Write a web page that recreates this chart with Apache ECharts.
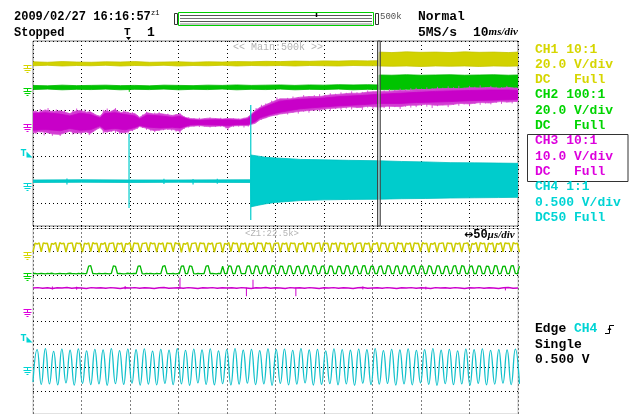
<!DOCTYPE html>
<html>
<head>
<meta charset="utf-8">
<script src="https://cdn.jsdelivr.net/npm/echarts@6/dist/echarts.min.js"></script>
<style>
html,body{margin:0;padding:0;background:#fff;}
#scope{width:631px;height:414px;}
</style>
</head>
<body>
<div id="scope"></div>
<script>
// ---- Trace colours ----
const TRACE = ['#d2d200', '#00c400', '#cc00cc', '#00cccc'];
const LABEL = ['#d6d600', '#00d400', '#dd00dd', '#00d4d4'];

// ---- Main window: 10 ms/div, values in divisions; rows are [ms, low, high] ----
const CH1_MAIN = [[0,2.93,3.10],[3,2.95,3.08],[6,2.92,3.11],[9,2.94,3.09],[12,2.93,3.08],[15,2.95,3.10],[18,2.92,3.09],[21,2.94,3.11],[24,2.93,3.08],[27,2.95,3.09],[30,2.92,3.10],[33,2.94,3.08],[36,2.93,3.10],[39,2.95,3.09],[42,2.92,3.11],[45,2.94,3.10],[48,2.93,3.12],[51,2.94,3.11],[54,2.92,3.13],[57,2.94,3.12],[60,2.93,3.14],[63,2.92,3.13],[66,2.94,3.15],[69,2.93,3.14],[71.3,2.93,3.15],[71.35,2.92,3.52],[74,2.91,3.50],[77,2.92,3.53],[80,2.90,3.51],[83,2.92,3.52],[86,2.91,3.50],[89,2.92,3.53],[92,2.90,3.51],[95,2.92,3.52],[98,2.91,3.50],[100,2.92,3.52]];

const CH2_MAIN = [[0,1.90,2.08],[3,1.92,2.06],[6,1.89,2.09],[9,1.91,2.07],[12,1.90,2.08],[15,1.92,2.09],[18,1.89,2.07],[21,1.91,2.08],[24,1.90,2.06],[27,1.92,2.09],[30,1.89,2.08],[33,1.91,2.07],[36,1.90,2.09],[39,1.92,2.08],[42,1.89,2.10],[45,1.91,2.08],[48,1.90,2.09],[51,1.92,2.10],[54,1.89,2.08],[57,1.91,2.10],[60,1.90,2.09],[63,1.92,2.11],[66,1.89,2.10],[69,1.91,2.11],[71.3,1.90,2.10],[71.35,1.90,2.53],[74,1.89,2.52],[77,1.91,2.54],[80,1.90,2.52],[83,1.89,2.53],[86,1.91,2.54],[89,1.90,2.52],[92,1.89,2.53],[95,1.91,2.54],[98,1.90,2.52],[100,1.90,2.53]];

// CH3: outer noise envelope, the denser core, and individual noise excursions
const CH3_MAIN_OUTER = [[0,0.02,0.96],[1.2,0.08,0.92],[2.5,0.06,1.02],[4,-0.02,0.94],[5.6,-0.04,0.98],[7.6,0.10,0.86],[8.6,0.02,0.96],[9.7,0.03,1.00],[11,0.06,0.92],[11.8,0.00,0.94],[13,0.16,0.80],[13.8,0.26,0.74],[14.8,0.06,0.98],[16,0.10,0.94],[16.9,0.14,1.04],[18,0.04,0.90],[19,0.03,0.94],[20,0.12,0.88],[21,0.18,0.86],[22,0.30,0.70],[23.5,0.22,0.90],[25,0.12,0.84],[26.2,0.15,0.86],[27.5,0.19,0.82],[28.7,0.18,0.78],[30.3,0.10,0.84],[31.3,0.26,0.70],[32.4,0.31,0.65],[34.4,0.34,0.62],[36,0.30,0.66],[37.5,0.31,0.65],[39,0.33,0.63],[40.2,0.24,0.65],[41.2,0.33,0.64],[42.7,0.34,0.62],[44.3,0.34,0.69],[44.9,0.39,0.82],[45.8,0.44,0.99],[46.8,0.60,1.13],[48.9,0.75,1.33],[50.9,0.84,1.50],[53,0.90,1.50],[55.1,0.96,1.57],[57.1,1.00,1.60],[59.2,1.04,1.60],[61,1.08,1.66],[63.3,1.11,1.70],[65.4,1.15,1.74],[67.4,1.12,1.74],[69,1.18,1.79],[71.5,1.14,1.82],[73,1.18,1.82],[75.7,1.16,1.86],[77.5,1.22,1.86],[79.1,1.22,1.90],[81,1.26,1.90],[83,1.22,1.93],[86,1.24,1.95],[88,1.30,1.94],[90,1.28,1.98],[92.2,1.34,1.97],[94,1.32,1.99],[96.3,1.38,1.96],[98,1.36,1.99],[100,1.40,1.95]];

const CH3_MAIN_CORE = [[0,0.14,0.86],[2.5,0.17,0.90],[5.6,0.12,0.84],[7.6,0.22,0.76],[9.7,0.14,0.88],[11.8,0.16,0.82],[13.8,0.33,0.67],[14.8,0.17,0.86],[16.9,0.22,0.90],[19,0.16,0.82],[21,0.26,0.76],[22,0.35,0.63],[23.5,0.28,0.80],[26.2,0.24,0.76],[28.7,0.27,0.70],[30.3,0.24,0.74],[32.4,0.37,0.59],[34.4,0.39,0.57],[37.5,0.37,0.59],[40.2,0.35,0.59],[42.7,0.39,0.57],[44.3,0.39,0.63],[44.9,0.43,0.76],[45.8,0.52,0.92],[46.8,0.68,1.06],[48.9,0.82,1.24],[50.9,0.92,1.40],[55.1,1.07,1.48],[59.2,1.14,1.52],[63.3,1.20,1.60],[67.4,1.24,1.64],[71.5,1.30,1.70],[75.7,1.30,1.74],[79.1,1.34,1.78],[83,1.36,1.82],[86,1.38,1.84],[90,1.42,1.86],[94,1.44,1.88],[98,1.46,1.88],[100,1.48,1.86]];

const CH3_MAIN_SPIKES = [[0.6,-0.02,1.00],[1.5,0.05,1.06],[2.3,-0.08,0.95],[3.1,0.02,1.10],[4.0,-0.10,1.00],[4.8,0.04,1.04],[5.6,-0.11,0.96],[6.5,0.06,1.02],[7.3,0.10,0.88],[8.2,-0.04,1.00],[9.0,0.02,1.08],[9.9,-0.05,0.98],[10.7,0.06,1.04],[11.6,-0.07,0.94],[12.4,0.10,0.88],[13.6,0.22,0.78],[14.5,0.00,1.02],[15.3,0.04,1.08],[16.2,0.08,0.98],[17.0,0.02,1.10],[17.9,-0.02,0.96],[18.7,0.06,1.00],[19.6,0.00,0.94],[20.5,0.10,0.92],[21.5,0.20,0.80],[22.6,0.24,0.82],[23.4,0.16,0.94],[24.3,0.10,0.86],[25.1,0.06,0.90],[26.0,0.12,0.92],[26.9,0.14,0.84],[27.8,0.16,0.86],[28.6,0.12,0.80],[29.5,0.08,0.84],[30.3,0.00,0.88],[31.2,0.20,0.74],[32.1,0.26,0.70],[33.2,0.30,0.66],[34.3,0.28,0.68],[35.4,0.30,0.64],[36.5,0.26,0.70],[37.6,0.28,0.66],[38.7,0.30,0.68],[39.8,0.22,0.64],[40.2,0.14,0.62],[41.3,0.28,0.66],[42.4,0.30,0.64],[43.5,0.26,0.68],[44.4,0.30,0.74],[46.0,0.50,1.10],[47.1,0.60,1.24],[48.0,0.66,1.30],[49.2,0.76,1.42],[50.3,0.78,1.56],[51.4,0.86,1.48],[52.5,0.82,1.54],[53.6,0.90,1.60],[54.7,0.86,1.58],[55.8,0.94,1.66],[56.9,0.90,1.62],[58.0,0.98,1.66],[59.1,0.96,1.70],[60.2,1.02,1.68],[61.3,0.98,1.74],[62.4,1.06,1.72],[63.5,1.02,1.78],[64.6,1.08,1.76],[65.7,1.04,1.82],[66.8,1.10,1.78],[67.9,1.02,1.80],[69.0,1.12,1.86],[70.1,1.06,1.82],[71.2,1.00,1.88],[72.4,1.10,1.86],[73.5,1.06,1.92],[74.6,1.14,1.88],[75.7,1.06,1.94],[76.8,1.16,1.90],[77.9,1.12,1.96],[79.0,1.14,1.98],[80.1,1.20,1.94],[81.2,1.16,2.00],[82.3,1.10,1.96],[83.4,1.18,2.02],[84.5,1.22,1.98],[85.6,1.14,2.04],[86.7,1.24,2.00],[87.8,1.20,2.06],[88.9,1.26,1.98],[90.0,1.18,2.06],[91.1,1.28,2.02],[92.2,1.24,2.08],[93.3,1.30,2.00],[94.4,1.26,2.06],[95.5,1.32,2.02],[96.6,1.28,2.00],[97.7,1.34,2.06],[98.8,1.30,1.98],[99.6,1.36,2.00]];

const CH4_MAIN = [[0,-2.12,-2.01],[10,-2.11,-2.00],[20,-2.12,-2.01],[30,-2.11,-2.01],[44.85,-2.12,-2.00],[44.95,-3.17,-0.93],[46.5,-3.10,-0.98],[48,-3.04,-1.03],[50,-2.98,-1.06],[52,-2.95,-1.08],[55.1,-2.90,-1.12],[60,-2.87,-1.14],[65,-2.85,-1.16],[71.3,-2.84,-1.18],[76,-2.82,-1.21],[81,-2.81,-1.23],[86,-2.79,-1.26],[91,-2.78,-1.27],[96,-2.77,-1.28],[100,-2.76,-1.29]];

// short excursions: [ms, low, high]
const CH2_MAIN_SPIKES = [[19.85,1.80,2.05]];
const CH4_MAIN_SPIKES = [[7,-2.20,-1.95],[19.8,-3.22,-0.02],[27,-2.18,-1.96],[33,-2.20,-1.97],[38,-2.17,-1.96],[44.9,-3.74,1.23]];

// zoom window position inside the main record (ms)
const ZOOM_WINDOW = [[71.05, 71.6]];

// ---- Zoom window: 50 us/div, sampled traces ----
const ZOOM_STEP = 2.125;   // us per sample, CH1 and CH2
const CH1_ZOOM = [
2.98,3.37,3.33,3.38, 2.99,3.38,3.35,3.36, 2.97,3.36,3.32,3.39, 3.00,3.39,3.34,3.37, 2.98,3.35,3.36,3.38,
2.99,3.38,3.35,3.36, 2.98,3.37,3.33,3.38, 3.00,3.39,3.34,3.37, 2.97,3.36,3.32,3.39, 2.98,3.35,3.36,3.38,
2.98,3.37,3.33,3.38, 2.97,3.36,3.32,3.39, 2.99,3.38,3.35,3.36, 2.98,3.35,3.36,3.38, 3.00,3.39,3.34,3.37,
2.98,3.37,3.33,3.38, 2.99,3.38,3.35,3.36, 3.00,3.39,3.34,3.37, 2.97,3.36,3.32,3.39, 2.98,3.35,3.36,3.38,
2.99,3.38,3.35,3.36, 2.98,3.37,3.33,3.38, 2.98,3.35,3.36,3.38, 2.97,3.36,3.32,3.39, 3.00,3.39,3.34,3.37,
2.98,3.37,3.33,3.38, 2.97,3.36,3.32,3.39, 2.99,3.38,3.35,3.36, 3.00,3.39,3.34,3.37, 2.98,3.35,3.36,3.38,
2.98,3.37,3.33,3.38, 2.99,3.38,3.35,3.36, 2.97,3.36,3.32,3.39, 3.00,3.39,3.34,3.37, 2.98,3.35,3.36,3.38,
2.99,3.38,3.35,3.36, 2.98,3.37,3.33,3.38, 3.00,3.39,3.34,3.37, 2.97,3.36,3.32,3.39, 2.98,3.35,3.36,3.38,
2.98,3.37,3.33,3.38, 2.97,3.36,3.32,3.39, 2.99,3.38,3.35,3.36, 2.98,3.35,3.36,3.38, 3.00,3.39,3.34,3.37,
2.98,3.37,3.33,3.38, 2.99,3.38,3.35,3.36, 3.00,3.39,3.34,3.37, 2.97,3.36,3.32,3.39, 2.98,3.35,3.36,3.38,
2.99,3.38,3.35,3.36, 2.98,3.37,3.33,3.38, 2.98,3.35,3.36,3.38, 2.97,3.36,3.32,3.39, 3.00,3.39,3.34,3.37,
2.98,3.37,3.33,3.38, 2.97,3.36,3.32,3.39, 2.99,3.38,3.35,3.36, 3.00,3.39,3.34,3.37,
2.98];

const CH2_ZOOM = [
2.05,2.06,2.04,2.05, 2.06,2.05,2.04,2.06, 2.05,2.07,2.05,2.04, 2.05,2.06,2.05,2.05,
2.04,2.06,2.07,2.05, 2.05,2.04,2.06,2.05, 2.06,2.05,2.06,2.38, 2.40,2.06,2.05,2.04,
2.06,2.05,2.05,2.06, 2.05,2.04,2.06,2.39, 2.37,2.05,2.06,2.05, 2.04,2.05,2.07,2.05,
2.05,2.06,2.05,2.38, 2.39,2.05,2.04,2.06, 2.05,2.06,2.05,2.04, 2.06,2.05,2.05,2.37,
2.40,2.06,2.05,2.05, 2.06,2.04,2.05,2.06, 2.38,2.39,2.05,2.06, 2.39,2.37,2.05,2.04,
2.06,2.05,2.05,2.06, 2.38,2.40,2.05,2.06, 2.05,2.04,2.06,2.05, 2.37,2.06,2.05,2.39,
2.38,2.05,2.06,2.38, 2.39,2.06,2.05,2.05, 2.38,2.39,2.05,2.06, 2.39,2.38,2.06,2.05,
2.37,2.40,2.04,2.06, 2.40,2.38,2.05,2.05, 2.38,2.37,2.06,2.04, 2.39,2.39,2.05,2.06,
2.36,2.38,2.05,2.05, 2.38,2.40,2.06,2.04, 2.40,2.37,2.04,2.06, 2.37,2.39,2.05,2.05,
2.39,2.38,2.06,2.05, 2.38,2.36,2.05,2.06, 2.40,2.39,2.04,2.05, 2.37,2.38,2.06,2.05,
2.39,2.40,2.05,2.04, 2.38,2.37,2.05,2.06, 2.36,2.39,2.06,2.05, 2.40,2.38,2.05,2.05,
2.38,2.39,2.04,2.06, 2.39,2.37,2.05,2.05, 2.37,2.40,2.06,2.04, 2.38,2.38,2.05,2.06,
2.40,2.36,2.05,2.05, 2.39,2.39,2.06,2.05, 2.37,2.38,2.04,2.06, 2.38,2.40,2.05,2.05,
2.40,2.37,2.06,2.04, 2.36,2.39,2.05,2.06, 2.39,2.38,2.05,2.05, 2.38,2.37,2.06,2.05,
2.40,2.39,2.04,2.06, 2.37,2.38,2.05,2.05, 2.39,2.40,2.06,2.04,
2.38];

const CH3_ZOOM_STEP = 5;   // us per sample
const CH3_ZOOM = [
1.43,1.45,1.42,1.44,1.41,1.44,1.43,1.46,1.42,1.44,
1.43,1.41,1.45,1.43,1.44,1.42,1.45,1.43,1.41,1.44,
1.43,1.45,1.42,1.44,1.43,1.41,1.44,1.46,1.42,1.43,
1.44,1.42,1.45,1.43,1.41,1.44,1.43,1.45,1.42,1.44,
1.43,1.44,1.42,1.45,1.43,1.41,1.44,1.43,1.46,1.42,
1.44,1.43,1.41,1.45,1.43,1.44,1.42,1.45,1.43,1.41,
1.44,1.43,1.45,1.42,1.44,1.43,1.41,1.44,1.46,1.42,
1.43,1.44,1.42,1.45,1.43,1.41,1.44,1.43,1.45,1.42,
1.44,1.43,1.41,1.45,1.43,1.44,1.42,1.45,1.43,1.41,
1.44,1.43,1.45,1.42,1.44,1.43,1.41,1.44,1.46,1.42,
1.43];
const CH3_ZOOM_SPIKES = [[20,1.37,1.50],[45,1.36,1.49],[95,1.38,1.52],[151.5,1.40,1.88],[220,1.08,1.45],[226.8,1.40,1.79],[271,1.08,1.45],[340,1.37,1.50],[405,1.37,1.49],[487,1.33,1.47]];

const CH4_ZOOM_STEP = 4.25;  // us per sample (peaks and troughs)
const CH4_ZOOM = [
-2.62,-1.22,-2.72,-1.18,-2.70,-1.30,-2.74,-1.20,-2.66,-1.25,
-2.75,-1.19,-2.68,-1.28,-2.73,-1.21,-2.70,-1.24,-2.76,-1.18,
-2.69,-1.27,-2.72,-1.20,-2.67,-1.23,-2.75,-1.19,-2.71,-1.29,
-2.74,-1.21,-2.68,-1.25,-2.73,-1.18,-2.70,-1.26,-2.76,-1.20,
-2.66,-1.24,-2.72,-1.19,-2.74,-1.28,-2.69,-1.22,-2.75,-1.18,
-2.71,-1.25,-2.67,-1.21,-2.73,-1.27,-2.70,-1.19,-2.76,-1.23,
-2.68,-1.20,-2.74,-1.26,-2.71,-1.18,-2.66,-1.24,-2.75,-1.21,
-2.72,-1.28,-2.69,-1.19,-2.74,-1.22,-2.70,-1.25,-2.76,-1.20,
-2.67,-1.23,-2.73,-1.18,-2.71,-1.27,-2.68,-1.21,-2.75,-1.24,
-2.70,-1.19,-2.74,-1.26,-2.66,-1.22,-2.72,-1.18,-2.76,-1.25,
-2.69,-1.21,-2.73,-1.28,-2.70,-1.20,-2.75,-1.23,-2.68,-1.19,
-2.74,-1.26,-2.71,-1.22,-2.67,-1.24,-2.73,-1.20,-2.70];

// channel ground levels and trigger level (divisions)
const GROUND_MAIN = [2.96, 1.95, 0.41, -2.13];
const GROUND_ZOOM = [3.00, 2.08, 0.54, -1.99];
const TRIG_MAIN = -1.0;
const TRIG_ZOOM = -0.91;

// right-hand channel settings
const CH_INFO = [
  ['CH1 10:1', '20.0 V/div', 'DC   Full'],
  ['CH2 100:1', '20.0 V/div', 'DC   Full'],
  ['CH3 10:1', '10.0 V/div', 'DC   Full'],
  ['CH4 1:1', '0.500 V/div', 'DC50 Full']
];

// ---------------------------------------------------------------
const MONO = '"Liberation Mono","DejaVu Sans Mono",monospace';
const chart = echarts.init(document.getElementById('scope'));

const dotted = { show: true, lineStyle: { color: '#000', width: 1, type: [1, 3] } };
function xAx(gi, max, interval) {
  return { type: 'value', gridIndex: gi, min: 0, max, interval,
    axisLine: { show: false }, axisTick: { show: false }, axisLabel: { show: false }, splitLine: dotted };
}
function yAx(gi) {
  return { type: 'value', gridIndex: gi, min: -4, max: 4, interval: 1,
    axisLine: { show: false }, axisTick: { show: false }, axisLabel: { show: false }, splitLine: dotted };
}

function band(rows, gi, fill, stroke) {
  return {
    type: 'custom', xAxisIndex: gi, yAxisIndex: gi, clip: true, silent: true, data: rows,
    renderItem(params, api) {
      if (params.dataIndex !== 0) return;
      const top = rows.map(r => api.coord([r[0], r[2]]));
      const bot = rows.map(r => api.coord([r[0], r[1]])).reverse();
      return { type: 'polygon', shape: { points: top.concat(bot) },
        style: { fill, stroke, lineWidth: 0.8 } };
    }
  };
}
function spikes(rows, gi, color, width) {
  return {
    type: 'custom', xAxisIndex: gi, yAxisIndex: gi, clip: true, silent: true, data: rows,
    renderItem(params, api) {
      const a = api.coord([api.value(0), api.value(1)]);
      const b = api.coord([api.value(0), api.value(2)]);
      return { type: 'line', shape: { x1: a[0], y1: a[1], x2: b[0], y2: b[1] },
        style: { stroke: color, lineWidth: width } };
    }
  };
}
function trace(values, step, gi, color, width, smooth) {
  return { type: 'line', xAxisIndex: gi, yAxisIndex: gi, symbol: 'none', silent: true,
    smooth: !!smooth, data: values.map((v, i) => [i * step, v]),
    lineStyle: { color, width } };
}
function markers(grounds, trig, gi) {
  return {
    type: 'custom', xAxisIndex: gi, yAxisIndex: gi, clip: false, silent: true, z: 6,
    data: grounds.map((v, i) => [0, v, i]).concat([[0, trig, 4]]),
    renderItem(params, api) {
      const p = api.coord([0, api.value(1)]);
      const k = api.value(2);
      const x = Math.round(p[0]) - 0.5, y = Math.round(p[1]) + 0.5;
      if (k === 4) {
        const c = LABEL[3];
        return { type: 'group', children: [
          { type: 'text', x: x - 12, y: y - 4, style: { text: 'T', fill: c, font: 'bold 10px ' + MONO, verticalAlign: 'middle' } },
          { type: 'polygon', shape: { points: [[x - 6, y - 6], [x - 6, y], [x, y]] }, style: { fill: c } }
        ] };
      }
      const c = LABEL[k];
      const L = (x1, y1, x2, y2) => ({ type: 'line', shape: { x1, y1, x2, y2 }, style: { stroke: c, lineWidth: 1 } });
      return { type: 'group', children: [
        L(x - 9, y, x - 1, y), L(x - 5, y, x - 5, y + 3),
        L(x - 9, y + 3, x - 1, y + 3), L(x - 8, y + 5, x - 2, y + 5), L(x - 6, y + 7, x - 4, y + 7)
      ] };
    }
  };
}

const series = [
  band(CH1_MAIN, 0, TRACE[0], '#c4c400'),
  band(CH2_MAIN, 0, TRACE[1], '#00b400'),
  spikes(CH2_MAIN_SPIKES, 0, TRACE[1], 1),
  band(CH3_MAIN_OUTER, 0, '#d23cd2', '#d650d6'),
  spikes(CH3_MAIN_SPIKES, 0, 'rgba(214,60,214,0.9)', 1),
  band(CH3_MAIN_CORE, 0, '#c800c8', '#c800c8'),
  band(CH4_MAIN, 0, TRACE[3], '#00c0c0'),
  spikes(CH4_MAIN_SPIKES, 0, TRACE[3], 1.2),
  {
    type: 'custom', xAxisIndex: 0, yAxisIndex: 0, clip: false, silent: true, z: 5, data: ZOOM_WINDOW,
    renderItem(params, api) {
      const a = api.coord([api.value(0), 4]);
      const b = api.coord([api.value(1), -4]);
      return { type: 'rect', shape: { x: a[0], y: a[1], width: b[0] - a[0], height: b[1] - a[1] },
        style: { fill: 'rgba(205,205,205,0.55)', stroke: '#3c3c3c', lineWidth: 1 } };
    }
  },
  markers(GROUND_MAIN, TRIG_MAIN, 0),

  trace(CH1_ZOOM, ZOOM_STEP, 1, '#cccc00', 1.5),
  trace(CH2_ZOOM, ZOOM_STEP, 1, '#00b800', 1.3),
  trace(CH3_ZOOM, CH3_ZOOM_STEP, 1, TRACE[2], 1.5),
  spikes(CH3_ZOOM_SPIKES, 1, TRACE[2], 1),
  trace(CH4_ZOOM, CH4_ZOOM_STEP, 1, '#14c2cc', 1.3, true),
  markers(GROUND_ZOOM, TRIG_ZOOM, 1)
];

// ---- text and panel furniture ----
function txt(x, y, text, size, fill, weight) {
  return { type: 'text', x, y, silent: true, z: 10,
    style: { text, fill, font: (weight || 'bold') + ' ' + size + 'px ' + MONO, verticalAlign: 'middle', align: 'left' } };
}
function hline(x1, x2, y, stroke) {
  return { type: 'line', silent: true, z: 10, shape: { x1, y1: y, x2, y2: y }, style: { stroke, lineWidth: 1 } };
}

const graphics = [
  txt(14, 16.5, '2009/02/27 16:16:57', 12, '#000'),
  txt(151, 13, 'z1', 7, '#000', 'normal'),
  txt(14, 32.5, 'Stopped', 12, '#000'),
  txt(124, 32, 'T', 11, '#000'),
  { type: 'polygon', silent: true, z: 10, shape: { points: [[126, 37], [131, 37], [128.5, 40]] }, style: { fill: '#000' } },
  txt(147, 32.5, '1', 13, '#000'),
  // record bar
  { type: 'rect', silent: true, z: 10, shape: { x: 178.5, y: 12.5, width: 195, height: 13 }, style: { fill: '#fff', stroke: '#00d000', lineWidth: 1 } },
  hline(180, 372, 15.5, '#555'),
  hline(180, 372, 18.5, '#777'),
  hline(180, 372, 21.5, '#555'),
  hline(180, 372, 24, '#888'),
  { type: 'rect', silent: true, z: 10, shape: { x: 174.5, y: 13.5, width: 3, height: 11 }, style: { fill: '#fff', stroke: '#333', lineWidth: 1 } },
  { type: 'rect', silent: true, z: 10, shape: { x: 375.5, y: 13.5, width: 3, height: 11 }, style: { fill: '#fff', stroke: '#333', lineWidth: 1 } },
  { type: 'line', silent: true, z: 11, shape: { x1: 316.5, y1: 13, x2: 316.5, y2: 17 }, style: { stroke: '#000', lineWidth: 1.5 } },
  txt(380, 17, '500k', 9, '#505050', 'normal'),
  txt(418, 16.5, 'Normal', 13, '#000'),
  txt(418, 32.5, '5MS/s', 13, '#000'),
  { type: 'text', x: 473, y: 32.5, silent: true, z: 10,
    style: { text: '{a|10}{b|ms/div}', verticalAlign: 'middle',
      rich: { a: { font: 'bold 13px ' + MONO, fill: '#000', verticalAlign: 'middle' },
              b: { font: 'italic bold 11px "Liberation Serif","DejaVu Serif",serif', fill: '#000', verticalAlign: 'middle' } } } },
  txt(233, 47.5, '<< Main:500k >>', 10, '#b4b4b4', 'normal'),
  txt(245, 234, '<Z1:22.5k>', 9, '#b4b4b4', 'normal'),
  { type: 'text', x: 464, y: 235, silent: true, z: 10,
    style: { text: '{a|\u2194}{n|50}{b|\u00b5s/div}', verticalAlign: 'middle',
      rich: { a: { font: 'bold 11px "DejaVu Sans",sans-serif', fill: '#000', verticalAlign: 'middle' },
              n: { font: 'bold 12px ' + MONO, fill: '#000', verticalAlign: 'middle' },
              b: { font: 'italic bold 11px "Liberation Serif","DejaVu Serif",serif', fill: '#000', verticalAlign: 'middle' } } } },
  // CH3 selection box
  { type: 'rect', silent: true, z: 10, shape: { x: 527.5, y: 134.5, width: 100.5, height: 47 }, style: { fill: 'none', stroke: '#333', lineWidth: 1 } },
  // trigger summary
  { type: 'text', x: 535, y: 329, silent: true, z: 10,
    style: { text: '{k|Edge }{c|CH4}', verticalAlign: 'middle',
      rich: { k: { font: 'bold 13px ' + MONO, fill: '#000' }, c: { font: 'bold 13px ' + MONO, fill: LABEL[3] } } } },
  { type: 'polyline', silent: true, z: 10, shape: { points: [[605, 333.5], [609.5, 333.5], [609.5, 325.5], [614, 325.5]] }, style: { stroke: '#000', lineWidth: 1, fill: 'none' } },
  { type: 'polygon', silent: true, z: 10, shape: { points: [[607.5, 330], [611.5, 330], [609.5, 327]] }, style: { fill: '#000' } },
  txt(535, 345, 'Single', 13, '#000'),
  txt(535, 360, '0.500 V', 13, '#000')
];
CH_INFO.forEach((lines, ch) => {
  lines.forEach((s, j) => {
    graphics.push(txt(535, 49.3 + (ch * 3 + j) * 15.3, s, 13, LABEL[ch]));
  });
});

chart.setOption({
  animation: false,
  backgroundColor: '#fff',
  grid: [
    { left: 33, top: 41, width: 485, height: 185, show: true, borderColor: '#7c7c7c', borderWidth: 1, backgroundColor: '#fff' },
    { left: 33, top: 228.5, width: 485, height: 186.6, show: true, borderColor: '#c4c4c4', borderWidth: 1, backgroundColor: '#fff' }
  ],
  xAxis: [xAx(0, 100, 10), xAx(1, 500, 50)],
  yAxis: [yAx(0), yAx(1)],
  series,
  graphic: graphics
});
</script>
</body>
</html>
